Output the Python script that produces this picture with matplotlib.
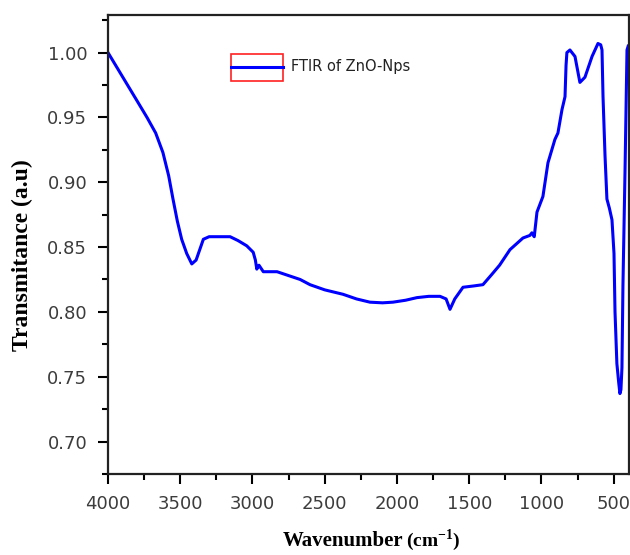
import matplotlib.pyplot as plt
from matplotlib.patches import Rectangle
from matplotlib.lines import Line2D
from matplotlib.ticker import MultipleLocator

plt.rcParams['mathtext.fontset'] = 'custom'
plt.rcParams['mathtext.rm'] = 'Liberation Serif:bold'
plt.rcParams['mathtext.bf'] = 'Liberation Serif:bold'

# FTIR spectrum of ZnO nanoparticles
wavenumber = [4000, 3900, 3800, 3730, 3670, 3620, 3580, 3550, 3520, 3490, 3455, 3420,
              3390, 3340, 3300, 3270, 3200, 3155, 3100, 3040, 2995, 2980, 2970, 2955,
              2925, 2830, 2750, 2670, 2602, 2500, 2374, 2280, 2187, 2100, 2028, 1940,
              1862, 1780, 1702, 1660, 1633, 1600, 1543, 1470, 1405, 1343, 1290, 1218,
              1128, 1080, 1066, 1050, 1031, 990, 955, 907, 886, 858, 837, 830, 824,
              803, 768, 734, 699, 650, 609, 590, 581, 574, 560, 547, 530, 512, 498,
              491, 478, 465, 457, 450, 443, 436, 422, 408, 400]
transmittance = [1.000, 0.9815, 0.963, 0.950, 0.938, 0.923, 0.905, 0.887, 0.870, 0.856,
                 0.845, 0.837, 0.840, 0.856, 0.858, 0.858, 0.858, 0.858, 0.855, 0.851,
                 0.846, 0.840, 0.833, 0.836, 0.831, 0.831, 0.828, 0.825, 0.821, 0.817,
                 0.8136, 0.810, 0.8075, 0.8070, 0.8075, 0.809, 0.811, 0.812, 0.812,
                 0.810, 0.802, 0.810, 0.819, 0.820, 0.821, 0.829, 0.836, 0.848, 0.857,
                 0.859, 0.861, 0.858, 0.877, 0.889, 0.915, 0.933, 0.938, 0.956, 0.966,
                 0.990, 1.000, 1.002, 0.997, 0.977, 0.981, 0.997, 1.007, 1.006, 1.002,
                 0.966, 0.920, 0.887, 0.880, 0.871, 0.845, 0.800, 0.760, 0.745, 0.737,
                 0.740, 0.757, 0.821, 0.907, 1.002, 1.005]

tick_color = '#3c3c3c'

fig = plt.figure(figsize=(6.3, 5.55), dpi=100)
ax = fig.add_axes([0.1714, 0.146, 0.8266, 0.827])

ax.plot(wavenumber, transmittance, color='#0000ff', linewidth=2.2)

ax.set_xlim(4000, 396)
ax.set_ylim(0.675, 1.029)
ax.xaxis.set_major_locator(MultipleLocator(500))
ax.xaxis.set_minor_locator(MultipleLocator(250))
ax.yaxis.set_major_locator(MultipleLocator(0.05))
ax.yaxis.set_minor_locator(MultipleLocator(0.025))
ax.yaxis.set_major_formatter(plt.FormatStrFormatter('%.2f'))

ax.tick_params(which='major', direction='out', length=7, width=1.5,
               labelsize=13, labelcolor=tick_color, pad=8)
ax.tick_params(which='minor', direction='out', length=4, width=1.5)
for lab in ax.get_xticklabels() + ax.get_yticklabels():
    lab.set_family('DejaVu Sans')
for sp in ax.spines.values():
    sp.set_linewidth(1.6)
    sp.set_color('#222222')

ax.set_ylabel('Transmitance (a.u)', family='Liberation Serif',
              fontweight='bold', fontsize=17)
ax.yaxis.set_label_coords(-0.144, 0.477)

# x label: big "Wavenumber" plus a smaller unit
ax.text(0.567, -0.158, 'Wavenumber', transform=ax.transAxes, ha='right', va='baseline',
        family='Liberation Serif', fontweight='bold', fontsize=15)
ax.text(0.572, -0.158, '(cm$^{\\mathregular{-1}}$)', transform=ax.transAxes, ha='left',
        va='baseline', family='Liberation Serif', fontweight='bold', fontsize=14)

# hand-drawn legend as in the original figure
ax.add_patch(Rectangle((0.237, 0.857), 0.1, 0.058, transform=ax.transAxes,
                       fill=False, edgecolor='#ff2020', linewidth=1.2))
ax.add_line(Line2D([0.237, 0.337], [0.886, 0.886], transform=ax.transAxes,
                   color='#0000ff', linewidth=2.2))
ax.text(0.352, 0.888, 'FTIR of ZnO-Nps', transform=ax.transAxes,
        family='DejaVu Sans', fontsize=10.5, color='#222222', va='center')

fig.savefig('out.png', dpi=100)
